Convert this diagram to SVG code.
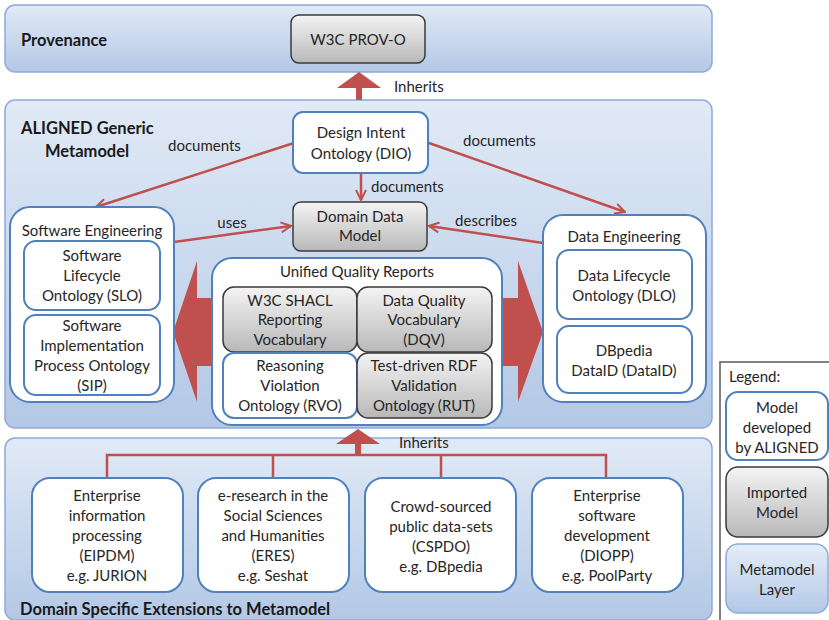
<svg xmlns="http://www.w3.org/2000/svg" width="829" height="620" viewBox="0 0 829 620">
<defs>
<linearGradient id="layerG" x1="0" y1="0" x2="0" y2="1">
<stop offset="0" stop-color="#e1eaf6"/>
<stop offset="1" stop-color="#b3c8e6"/>
</linearGradient>
<linearGradient id="grayG" x1="0" y1="0" x2="0" y2="1">
<stop offset="0" stop-color="#f4f4f4"/>
<stop offset="1" stop-color="#b8b8b8"/>
</linearGradient>
<linearGradient id="legLayerG" x1="0" y1="0" x2="0" y2="1">
<stop offset="0" stop-color="#e6eef8"/>
<stop offset="1" stop-color="#b3c8e6"/>
</linearGradient>
<marker id="open" viewBox="0 0 12 12" refX="11" refY="6" markerWidth="12" markerHeight="12" markerUnits="userSpaceOnUse" orient="auto">
<path d="M1,1 L11,6 L1,11" fill="none" stroke="#c0504d" stroke-width="2"/>
</marker>
</defs>
<style>
.layer{fill:url(#layerG);stroke:#8eabd8;stroke-width:1.5}
.wbox{fill:#ffffff;stroke:#4f81bd;stroke-width:2}
.gbox{fill:url(#grayG);stroke:#3a3a3a;stroke-width:1.5}
.t{font-family:Lato,"Open Sans","Liberation Sans",sans-serif;font-size:15px;fill:#262626;text-anchor:middle}
.tl{font-family:Lato,"Open Sans","Liberation Sans",sans-serif;font-size:15px;fill:#262626}
.b{font-family:Lato,"Open Sans","Liberation Sans",sans-serif;font-size:16.5px;font-weight:bold;fill:#1a1a1a}
.ln{fill:none;stroke:#c0504d;stroke-width:2.5}
.big{fill:#c0504d;stroke:none}
</style>

<!-- Layers -->
<g id="layer-provenance">
<rect class="layer" x="5" y="5" width="707" height="67" rx="10"/>
<text class="b" x="21" y="46">Provenance</text>
</g>
<g id="layer-aligned">
<rect class="layer" x="5" y="100" width="707" height="328" rx="10"/>
<text class="b" x="21" y="134">ALIGNED Generic</text>
<text class="b" x="45" y="157">Metamodel</text>
</g>
<g id="layer-domain">
<rect class="layer" x="5" y="438" width="707" height="182" rx="10"/>
<text class="b" x="20" y="615">Domain Specific Extensions to Metamodel</text>
</g>

<!-- Connectors -->
<g id="connectors">
<!-- Inherits top -->
<polygon class="big" points="356,100 356,88 337,88 359,72 381,88 362,88 362,100"/>
<text class="tl" x="394" y="92">Inherits</text>
<!-- documents arrows -->
<line class="ln" x1="294" y1="143" x2="96" y2="207" marker-end="url(#open)"/>
<line class="ln" x1="429" y1="143" x2="625" y2="212" marker-end="url(#open)"/>
<line class="ln" x1="361" y1="173" x2="361" y2="200" marker-end="url(#open)"/>
<text class="tl" x="168" y="151">documents</text>
<text class="tl" x="463" y="146">documents</text>
<text class="tl" x="371" y="192">documents</text>
<!-- uses / describes -->
<line class="ln" x1="174" y1="242" x2="291" y2="226" marker-end="url(#open)"/>
<text class="t" x="232" y="228">uses</text>
<line class="ln" x1="543" y1="243" x2="429" y2="226" marker-end="url(#open)"/>
<text class="t" x="486" y="226">describes</text>
<!-- big double arrows -->
<polygon class="big" points="213,298 197,298 197,261 173,332 197,402 197,366 213,366"/>
<polygon class="big" points="501,298 518,298 518,261 543,332 518,402 518,366 501,366"/>
<!-- Inherits bottom -->
<polygon class="big" points="355,455 355,444 336,444 358,429 380,444 361,444 361,455"/>
<text class="tl" x="399" y="448">Inherits</text>
<polyline class="ln" points="107,478 107,455 606,455 606,478"/>
<line class="ln" x1="273" y1="455" x2="273" y2="478"/>
<line class="ln" x1="441" y1="455" x2="441" y2="478"/>
</g>

<!-- Nodes -->
<g id="prov-o">
<rect class="gbox" x="291" y="15" width="134" height="48" rx="8"/>
<text class="t" x="358" y="45">W3C PROV-O</text>
</g>
<g id="dio">
<rect class="wbox" x="293" y="112" width="135" height="61" rx="10"/>
<text class="t" x="361" y="138">Design Intent</text>
<text class="t" x="361" y="159">Ontology (DIO)</text>
</g>
<g id="ddm">
<rect class="gbox" x="293" y="202" width="134" height="49" rx="8"/>
<text class="t" x="360" y="222">Domain Data</text>
<text class="t" x="360" y="241">Model</text>
</g>

<g id="software-engineering">
<rect class="wbox" x="10" y="207" width="164" height="195" rx="20"/>
<text class="t" x="92" y="236">Software Engineering</text>
</g>
<g id="slo">
<rect class="wbox" x="24" y="241" width="136" height="69" rx="12"/>
<text class="t" x="92" y="261">Software</text>
<text class="t" x="92" y="281">Lifecycle</text>
<text class="t" x="92" y="301">Ontology (SLO)</text>
</g>
<g id="sip">
<rect class="wbox" x="24" y="315" width="136" height="80" rx="12"/>
<text class="t" x="92" y="331">Software</text>
<text class="t" x="92" y="351">Implementation</text>
<text class="t" x="92" y="371">Process Ontology</text>
<text class="t" x="92" y="391">(SIP)</text>
</g>

<g id="data-engineering">
<rect class="wbox" x="543" y="215" width="163" height="187" rx="20"/>
<text class="t" x="624" y="242">Data Engineering</text>
</g>
<g id="dlo">
<rect class="wbox" x="557" y="250" width="135" height="69" rx="12"/>
<text class="t" x="624" y="281">Data Lifecycle</text>
<text class="t" x="624" y="301">Ontology (DLO)</text>
</g>
<g id="dataid">
<rect class="wbox" x="557" y="326" width="135" height="67" rx="12"/>
<text class="t" x="624" y="356">DBpedia</text>
<text class="t" x="624" y="376">DataID (DataID)</text>
</g>

<g id="uqr">
<rect class="wbox" x="212" y="258" width="290" height="167" rx="20"/>
<text class="t" x="357" y="277">Unified Quality Reports</text>
</g>
<g id="shacl">
<rect class="gbox" x="223" y="287" width="134" height="65" rx="11"/>
<text class="t" x="290" y="306">W3C SHACL</text>
<text class="t" x="290" y="325">Reporting</text>
<text class="t" x="290" y="345">Vocabulary</text>
</g>
<g id="dqv">
<rect class="gbox" x="357" y="287" width="135" height="65" rx="11"/>
<text class="t" x="424" y="306">Data Quality</text>
<text class="t" x="424" y="325">Vocabulary</text>
<text class="t" x="424" y="345">(DQV)</text>
</g>
<g id="rvo">
<rect class="wbox" x="223" y="353" width="134" height="65" rx="11"/>
<text class="t" x="290" y="371">Reasoning</text>
<text class="t" x="290" y="391">Violation</text>
<text class="t" x="290" y="411">Ontology (RVO)</text>
</g>
<g id="rut">
<rect class="gbox" x="357" y="353" width="135" height="65" rx="11"/>
<text class="t" x="424" y="371">Test-driven RDF</text>
<text class="t" x="424" y="391">Validation</text>
<text class="t" x="424" y="411">Ontology (RUT)</text>
</g>

<g id="eipdm">
<rect class="wbox" x="32" y="478" width="151" height="114" rx="18"/>
<text class="t" x="107" y="501">Enterprise</text>
<text class="t" x="107" y="521">information</text>
<text class="t" x="107" y="541">processing</text>
<text class="t" x="107" y="561">(EIPDM)</text>
<text class="t" x="107" y="581">e.g. JURION</text>
</g>
<g id="eres">
<rect class="wbox" x="198" y="478" width="151" height="114" rx="18"/>
<text class="t" x="273" y="501">e-research in the</text>
<text class="t" x="273" y="521">Social Sciences</text>
<text class="t" x="273" y="541">and Humanities</text>
<text class="t" x="273" y="561">(ERES)</text>
<text class="t" x="273" y="581">e.g. Seshat</text>
</g>
<g id="cspdo">
<rect class="wbox" x="365" y="478" width="151" height="114" rx="18"/>
<text class="t" x="441" y="512">Crowd-sourced</text>
<text class="t" x="441" y="532">public data-sets</text>
<text class="t" x="441" y="552">(CSPDO)</text>
<text class="t" x="441" y="572">e.g. DBpedia</text>
</g>
<g id="diopp">
<rect class="wbox" x="532" y="478" width="151" height="114" rx="18"/>
<text class="t" x="607" y="501">Enterprise</text>
<text class="t" x="607" y="521">software</text>
<text class="t" x="607" y="541">development</text>
<text class="t" x="607" y="561">(DIOPP)</text>
<text class="t" x="607" y="581">e.g. PoolParty</text>
</g>

<!-- Legend -->
<g id="legend">
<rect x="720" y="362" width="120" height="270" fill="#ffffff" stroke="#595959" stroke-width="1.5"/>
<text class="tl" x="729" y="382">Legend:</text>
<rect class="wbox" x="726" y="392" width="102" height="68" rx="12"/>
<text class="t" x="777" y="413">Model</text>
<text class="t" x="777" y="433">developed</text>
<text class="t" x="777" y="453">by ALIGNED</text>
<rect class="gbox" x="726" y="467" width="102" height="70" rx="12"/>
<text class="t" x="777" y="498">Imported</text>
<text class="t" x="777" y="518">Model</text>
<rect x="726" y="544" width="102" height="69" rx="12" fill="url(#legLayerG)" stroke="#8eabd8" stroke-width="1.5"/>
<text class="t" x="777" y="575">Metamodel</text>
<text class="t" x="777" y="595">Layer</text>
</g>
</svg>
